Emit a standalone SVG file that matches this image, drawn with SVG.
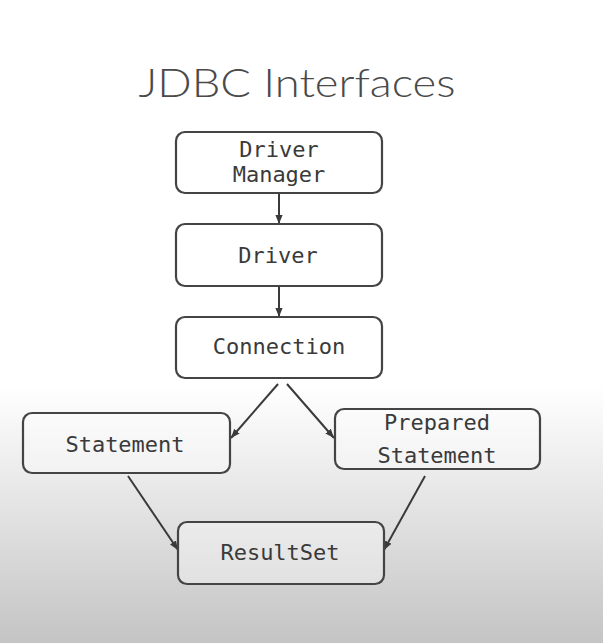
<svg xmlns="http://www.w3.org/2000/svg" width="603" height="643" viewBox="0 0 603 643">
<defs>
<linearGradient id="bg" x1="0" y1="0" x2="0" y2="1">
<stop offset="0" stop-color="#ffffff"/>
<stop offset="0.6" stop-color="#ffffff"/>
<stop offset="0.8" stop-color="#e2e2e2"/>
<stop offset="1" stop-color="#c4c4c4"/>
</linearGradient>
<marker id="arr" viewBox="0 0 10 10" refX="10" refY="5" markerWidth="9" markerHeight="9" markerUnits="userSpaceOnUse" orient="auto">
<path d="M0,1 L10,5 L0,9 Z" fill="#3a3a3a"/>
</marker>
<style>
.box{fill:#ffffff;fill-opacity:0.35;stroke:#444444;stroke-width:2.2}
.lbl{font-family:"DejaVu Sans Mono","Liberation Mono",monospace;font-size:22px;fill:#3a3a3a;text-anchor:middle}
.con{stroke:#3a3a3a;stroke-width:2;fill:none;marker-end:url(#arr)}
.title{font-family:Lato,"Open Sans","Noto Sans",sans-serif;font-weight:300;font-size:39px;fill:#4a4a4a;text-anchor:middle}
</style>
</defs>
<rect x="0" y="0" width="603" height="643" fill="url(#bg)"/>
<text class="title" x="297" y="97" textLength="317" lengthAdjust="spacingAndGlyphs">JDBC Interfaces</text>
<g id="connectors">
<line class="con" x1="279" y1="193" x2="279" y2="224"/>
<line class="con" x1="279" y1="286" x2="279" y2="317"/>
<line class="con" x1="278" y1="384" x2="231" y2="438"/>
<line class="con" x1="287" y1="384" x2="334" y2="438"/>
<line class="con" x1="128" y1="476" x2="178" y2="550"/>
<line class="con" x1="425" y1="476" x2="384" y2="550"/>
</g>
<g id="driver-manager">
<rect class="box" x="176" y="132" width="206" height="61" rx="9"/>
<text class="lbl" x="279" y="157">Driver</text>
<text class="lbl" x="279" y="182">Manager</text>
</g>
<g id="driver">
<rect class="box" x="176" y="224" width="206" height="62" rx="9"/>
<text class="lbl" x="278" y="263">Driver</text>
</g>
<g id="connection">
<rect class="box" x="176" y="317" width="206" height="61" rx="9"/>
<text class="lbl" x="279" y="354">Connection</text>
</g>
<g id="statement">
<rect class="box" x="23" y="413" width="207" height="60" rx="9"/>
<text class="lbl" x="125" y="452">Statement</text>
</g>
<g id="prepared-statement">
<rect class="box" x="335" y="409" width="205" height="60" rx="9"/>
<text class="lbl" x="437" y="430">Prepared</text>
<text class="lbl" x="437" y="463">Statement</text>
</g>
<g id="resultset">
<rect class="box" x="178" y="522" width="206" height="62" rx="9"/>
<text class="lbl" x="280" y="560">ResultSet</text>
</g>
</svg>
